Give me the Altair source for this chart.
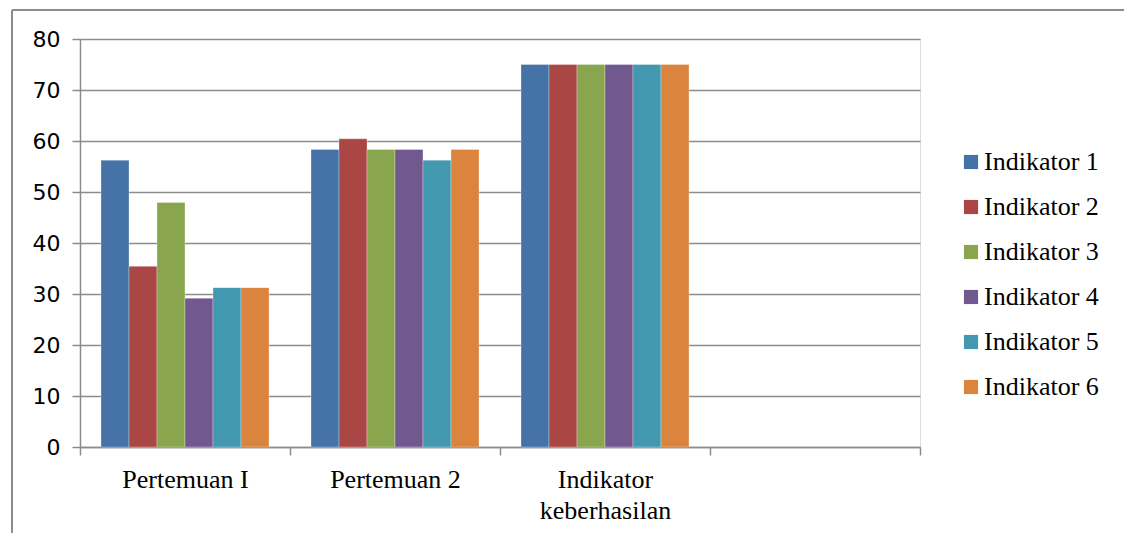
import altair as alt
import pandas as pd

# Percentages per indicator for each meeting, plus the success target
categories = ["Pertemuan I", "Pertemuan 2", "Indikator keberhasilan"]
indicators = ["Indikator 1", "Indikator 2", "Indikator 3",
              "Indikator 4", "Indikator 5", "Indikator 6"]
pertemuan_1 = [56.25, 35.42, 47.92, 29.17, 31.25, 31.25]
pertemuan_2 = [58.33, 60.42, 58.33, 58.33, 56.25, 58.33]
keberhasilan = [75, 75, 75, 75, 75, 75]
colors = ["#4572A7", "#AA4643", "#89A54E", "#71588F", "#4198AF", "#DB843D"]
y_ticks = [0, 10, 20, 30, 40, 50, 60, 70, 80]

rows = []
for cat, vals in zip(categories, [pertemuan_1, pertemuan_2, keberhasilan]):
    for ind, v in zip(indicators, vals):
        rows.append({"kategori": cat, "indikator": ind, "nilai": v})
df = pd.DataFrame(rows)

# an empty fourth slot on the category axis
x_domain = categories + [" "]

bars = alt.Chart(df).mark_bar(stroke="white", strokeWidth=0.6, strokeOpacity=0.5).encode(
    x=alt.X("kategori:N", sort=x_domain,
            scale=alt.Scale(domain=x_domain, paddingInner=0, paddingOuter=0),
            axis=alt.Axis(title=None, labelAngle=0, tickBand="extent",
                          labelFont="Liberation Serif", labelFontSize=26,
                          labelColor="black", labelPadding=11,
                          labelExpr="datum.value == 'Indikator keberhasilan' ? ['Indikator', 'keberhasilan'] : datum.value",
                          labelLineHeight=31,
                          domainColor="#8c8c8c", domainWidth=1.5,
                          tickColor="#8c8c8c", tickWidth=1.5, tickSize=8,
                          grid=False)),
    xOffset=alt.XOffset("indikator:N", sort=indicators,
                        scale=alt.Scale(paddingInner=0, paddingOuter=0.75)),
    y=alt.Y("nilai:Q",
            scale=alt.Scale(domain=[0, 80], nice=False),
            axis=alt.Axis(title=None, values=y_ticks,
                          labelFont="DejaVu Sans", labelFontSize=22,
                          labelColor="black", labelPadding=12,
                          domainColor="#8c8c8c", domainWidth=1.5,
                          tickColor="#8c8c8c", tickWidth=1.5, tickSize=8,
                          gridColor="#8c8c8c", gridWidth=1.5)),
    color=alt.Color("indikator:N", sort=indicators,
                    scale=alt.Scale(domain=indicators, range=colors),
                    legend=alt.Legend(title=None, orient="none",
                                      legendX=878, legendY=110,
                                      symbolType="square", symbolSize=200,
                                      symbolStrokeWidth=0,
                                      labelFont="Liberation Serif",
                                      labelFontSize=26, labelColor="black",
                                      labelOffset=0, rowPadding=19)),
)

# outer chart frame
frame = alt.Chart(pd.DataFrame({"a": [0]})).mark_rule(
    color="#8c8c8c", strokeWidth=2, clip=False
).encode(x=alt.value(-68), x2=alt.value(1050), y=alt.value(-29))
frame_left = alt.Chart(pd.DataFrame({"a": [0]})).mark_rule(
    color="#8c8c8c", strokeWidth=2, clip=False
).encode(x=alt.value(-68), y=alt.value(-29), y2=alt.value(500))

chart = alt.layer(bars, frame, frame_left).properties(
    width=840, height=408,
    autosize=alt.AutoSizeParams(type="none"),
    padding={"left": 80, "top": 39, "right": 204, "bottom": 86},
).configure_view(stroke=None).configure(background="white")

chart.save("out.html", embed_options={"renderer": "svg", "actions": False})
